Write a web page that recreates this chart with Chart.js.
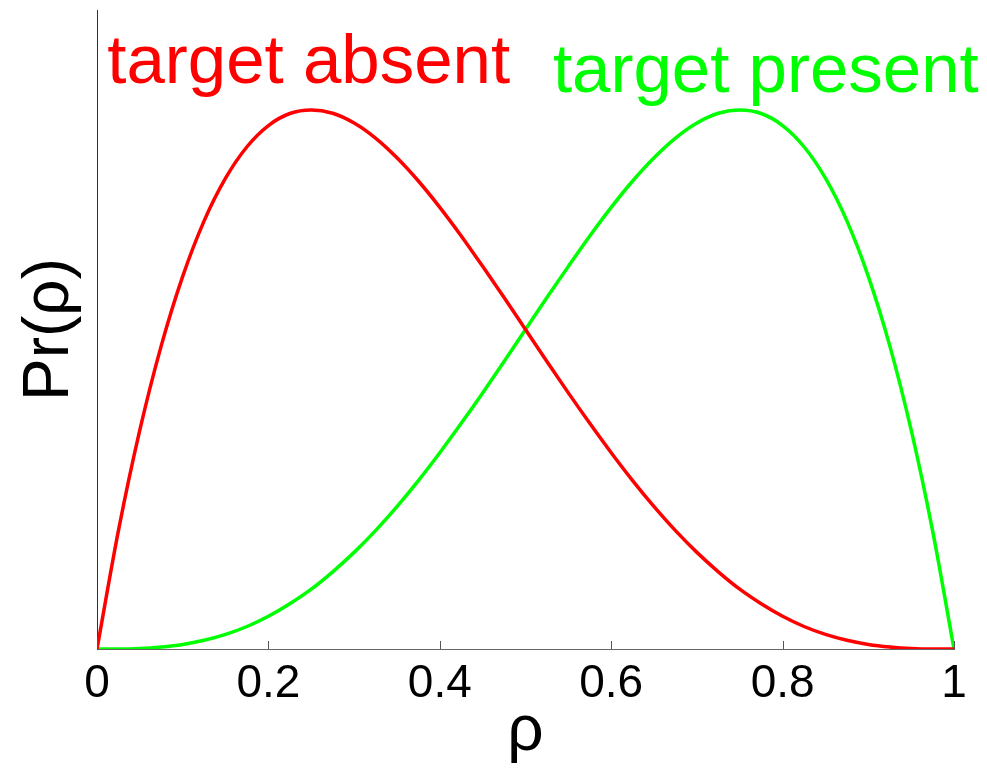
<!DOCTYPE html>
<html>
<head>
<meta charset="utf-8">
<script src="https://cdn.jsdelivr.net/npm/chart.js@4.4.1/dist/chart.umd.min.js"></script>
<style>
    html, body { margin: 0; padding: 0; background: #fff; }
    #wrap { width: 987px; height: 771px; }
</style>
</head>
<body>
<div id="wrap"><canvas id="myChart" width="987" height="771"></canvas></div>
<script>
// rho values along the x axis
const rhoValues = [0, 0.025, 0.05, 0.075, 0.1, 0.125, 0.15, 0.175, 0.2, 0.225,
    0.25, 0.275, 0.3, 0.325, 0.35, 0.375, 0.4, 0.425, 0.45, 0.475,
    0.5, 0.525, 0.55, 0.575, 0.6, 0.625, 0.65, 0.675, 0.7, 0.725,
    0.75, 0.775, 0.8, 0.825, 0.85, 0.875, 0.9, 0.925, 0.95, 0.975, 1];

// Pr(rho) when the target is absent
const absentValues = [0, 0.463, 0.857, 1.187, 1.458, 1.675, 1.842, 1.965, 2.048, 2.095,
    2.109, 2.096, 2.058, 1.999, 1.922, 1.831, 1.728, 1.616, 1.497, 1.375,
    1.250, 1.125, 1.002, 0.883, 0.768, 0.659, 0.557, 0.463, 0.378, 0.302,
    0.234, 0.177, 0.128, 0.088, 0.057, 0.034, 0.018, 0.008, 0.002, 0.000, 0];

// Pr(rho) when the target is present
const presentValues = [0, 0.000, 0.002, 0.008, 0.018, 0.034, 0.057, 0.088, 0.128, 0.177,
    0.234, 0.302, 0.378, 0.463, 0.557, 0.659, 0.768, 0.883, 1.002, 1.125,
    1.250, 1.375, 1.497, 1.616, 1.728, 1.831, 1.922, 1.999, 2.058, 2.096,
    2.109, 2.095, 2.048, 1.965, 1.842, 1.675, 1.458, 1.187, 0.857, 0.463, 0];

const xTicks = [0, 0.2, 0.4, 0.6, 0.8, 1];
const xTickLabels = ["0", "0.2", "0.4", "0.6", "0.8", "1"];

const seriesLabels = [
    {text: "target absent", color: "#ff0000", x: 0.012, y: 2.215},
    {text: "target present", color: "#00ff00", x: 0.532, y: 2.18}
];

const FONT = "'Liberation Sans', Arial, sans-serif";

function toPoints(ys) {
    return rhoValues.map((x, i) => ({x: x, y: ys[i]}));
}

// short tick marks pointing up into the plot, plus the curve names
const decorations = {
    id: "decorations",
    afterDraw(chart) {
        const ctx = chart.ctx;
        const xs = chart.scales.x;
        const ys = chart.scales.y;
        ctx.save();
        ctx.strokeStyle = "#555";
        ctx.lineWidth = 1;
        xTicks.forEach(t => {
            const px = Math.round(xs.getPixelForValue(t)) + 0.5;
            ctx.beginPath();
            ctx.moveTo(px, ys.bottom);
            ctx.lineTo(px, ys.bottom - 8);
            ctx.stroke();
        });
        ctx.font = "69px " + FONT;
        ctx.textBaseline = "alphabetic";
        ctx.textAlign = "left";
        seriesLabels.forEach(l => {
            ctx.fillStyle = l.color;
            ctx.fillText(l.text, xs.getPixelForValue(l.x), ys.getPixelForValue(l.y));
        });
        ctx.restore();
    }
};

new Chart("myChart", {
    type: "line",
    data: {
        datasets: [{
            data: toPoints(absentValues),
            borderColor: "#ff0000",
            borderWidth: 3.5,
            pointRadius: 0,
            cubicInterpolationMode: "monotone",
            fill: false
        }, {
            data: toPoints(presentValues),
            borderColor: "#00ff00",
            borderWidth: 3.5,
            pointRadius: 0,
            cubicInterpolationMode: "monotone",
            fill: false
        }]
    },
    options: {
        responsive: false,
        animation: false,
        layout: {padding: {top: 10, right: 33, left: 0, bottom: 0}},
        plugins: {legend: {display: false}, tooltip: {enabled: false}},
        scales: {
            x: {
                type: "linear",
                min: 0,
                max: 1,
                afterBuildTicks(scale) {
                    scale.ticks = xTicks.map(v => ({value: v}));
                },
                afterFit(scale) { scale.height = 122; },
                grid: {display: false, drawTicks: false},
                border: {display: true, color: "#666", width: 1},
                ticks: {
                    color: "#000",
                    padding: 8,
                    maxRotation: 0,
                    font: {family: FONT, size: 46},
                    callback: (value, index) => xTickLabels[index]
                },
                title: {
                    display: true,
                    text: "ρ",
                    color: "#000",
                    padding: 0,
                    font: {family: FONT, size: 64}
                }
            },
            y: {
                min: 0,
                max: 2.5,
                afterFit(scale) { scale.width = 97; },
                grid: {display: false, drawTicks: false},
                border: {display: true, color: "#333", width: 1},
                ticks: {display: false},
                title: {
                    display: true,
                    text: "Pr(ρ)",
                    color: "#000",
                    padding: {top: 12, bottom: 0},
                    font: {family: FONT, size: 64}
                }
            }
        }
    },
    plugins: [decorations]
});
</script>
</body>
</html>
